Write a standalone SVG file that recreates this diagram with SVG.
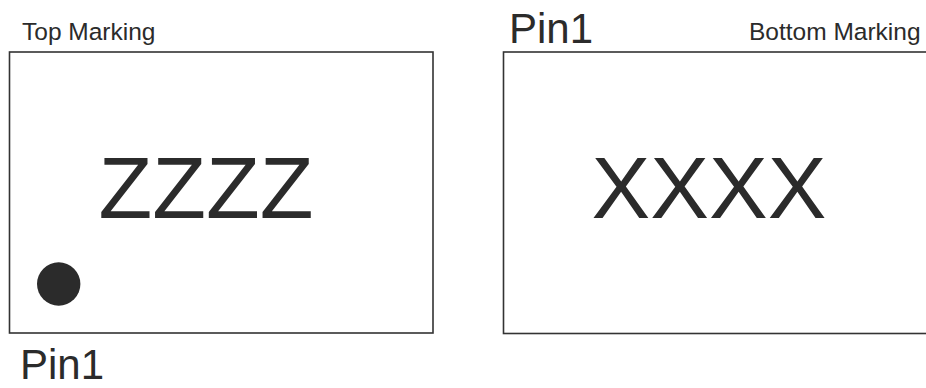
<svg xmlns="http://www.w3.org/2000/svg" width="926" height="388" viewBox="0 0 926 388">
<style>
.box{fill:#fff;stroke:#333;stroke-width:1.6}
.t{font-family:"Liberation Sans",Arial,sans-serif;fill:#2b2b2b}
.s{font-size:24.5px}
.p{font-size:42px}
.big{font-size:88px}
</style>
<rect width="926" height="388" fill="#fff"/>
<g id="top-marking">
<rect class="box" x="9.5" y="52" width="423.5" height="281"/>
<text class="t s" x="22" y="40">Top Marking</text>
<text class="t big" x="206" y="218" text-anchor="middle">ZZZZ</text>
<circle cx="58.7" cy="284" r="21.7" fill="#2b2b2b"/>
<text class="t p" x="20" y="379">Pin1</text>
</g>
<g id="bottom-marking">
<rect class="box" x="503.5" y="52" width="424" height="281.5"/>
<text class="t s" x="749" y="40">Bottom Marking</text>
<text class="t big" x="709" y="218" text-anchor="middle">XXXX</text>
<text class="t p" x="509" y="43">Pin1</text>
</g>
<g id="connectors"></g>
</svg>
